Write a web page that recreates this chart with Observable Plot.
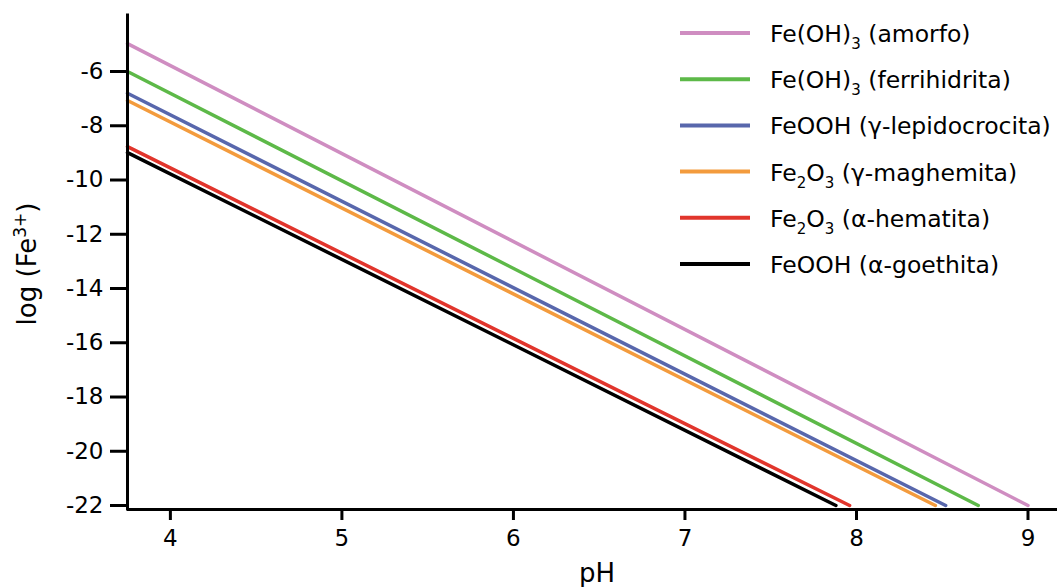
<!DOCTYPE html>
<html><head><meta charset="utf-8">
<script src="https://cdn.jsdelivr.net/npm/d3@7"></script>
<script src="https://cdn.jsdelivr.net/npm/@observablehq/plot@0.6"></script>
<style>body{margin:0;background:#fff} svg{display:block}</style>
</head><body><div id="chart"></div>
<script>
// Series (legend order), with "_n" marking a subscript digit
const series = ["Fe(OH)_3 (amorfo)", "Fe(OH)_3 (ferrihidrita)", "FeOOH (γ-lepidocrocita)", "Fe_2O_3 (γ-maghemita)", "Fe_2O_3 (α-hematita)", "FeOOH (α-goethita)"];
const colors = ["#cf8dc1", "#5db948", "#5867ac", "#f39b3d", "#e1352c", "#000000"];
// Each line: start point on the y axis, end point on the x axis
const pHStart = [3.75, 3.75, 3.75, 3.75, 3.75, 3.75];
const logStart = [-4.97, -6.0, -6.8, -7.07, -8.77, -8.99];
const pHEnd = [9.0, 8.71, 8.52, 8.46, 7.96, 7.88];
const logEnd = [-22, -22, -22, -22, -22, -22];
const xTicks = [4, 5, 6, 7, 8, 9];
const yTicks = [-6, -8, -10, -12, -14, -16, -18, -20, -22];
const xDomain = [3.75, 9.172];
const yDomain = [-22.147, -3.935];

const rows = [];
series.forEach((s, i) => {
  rows.push({s, pH: pHStart[i], log: logStart[i]});
  rows.push({s, pH: pHEnd[i], log: logEnd[i]});
});

const chart = Plot.plot({
  width: 1057, height: 587,
  marginLeft: 127, marginRight: 0, marginTop: 15, marginBottom: 78,
  style: {fontFamily: "DejaVu Sans", fontSize: "23px", color: "#000", background: "#fff", overflow: "visible"},
  x: {domain: xDomain},
  y: {domain: yDomain},
  color: {domain: series, range: colors},
  marks: [
    Plot.line(rows, {x: "pH", y: "log", z: "s", stroke: "s", strokeWidth: 3.5}),
    Plot.axisX(xTicks, {tickSize: 11, strokeWidth: 3, tickPadding: 9, label: null, tickFormat: d => String(d), fontSize: 23}),
    Plot.axisY(yTicks, {tickSize: 17, strokeWidth: 3, tickPadding: 7, label: null, tickFormat: d => String(d), fontSize: 23}),
    Plot.ruleX([xDomain[0]], {y1: yDomain[0], y2: yDomain[1], strokeWidth: 3, strokeLinecap: "square"}),
    Plot.ruleY([yDomain[0]], {strokeWidth: 3})
  ]
});
document.getElementById("chart").appendChild(chart);

const svg = d3.select(chart);
// axis titles
svg.append("text").attr("x", 597).attr("y", 582).attr("text-anchor", "middle")
  .attr("font-family", "DejaVu Sans").attr("font-size", 26).attr("fill", "#000").text("pH");
const yl = svg.append("text").attr("transform", "translate(36,264) rotate(-90)").attr("text-anchor", "middle")
  .attr("font-family", "DejaVu Sans").attr("font-size", 26).attr("fill", "#000");
yl.append("tspan").text("log (Fe");
yl.append("tspan").attr("dy", -10).attr("font-size", 17).text("3+");
yl.append("tspan").attr("dy", 10).text(")");

// legend
const lg = svg.append("g").attr("font-family", "DejaVu Sans").attr("font-size", 23.5)
  .attr("fill", "#000").attr("text-anchor", "start");
series.forEach((s, i) => {
  const y = 33 + i * 46.2;
  lg.append("line").attr("x1", 680).attr("x2", 750).attr("y1", y).attr("y2", y)
    .attr("stroke", colors[i]).attr("stroke-width", 4);
  const t = lg.append("text").attr("x", 770).attr("y", y + 9);
  const parts = s.split(/_(\d)/);
  parts.forEach((p, k) => {
    if (k % 2 === 1) {
      t.append("tspan").attr("dy", 7).attr("font-size", 15).text(p);
    } else if (p) {
      const ts = t.append("tspan").text(p);
      if (k > 0) ts.attr("dy", -7);
    }
  });
});
</script></body></html>
